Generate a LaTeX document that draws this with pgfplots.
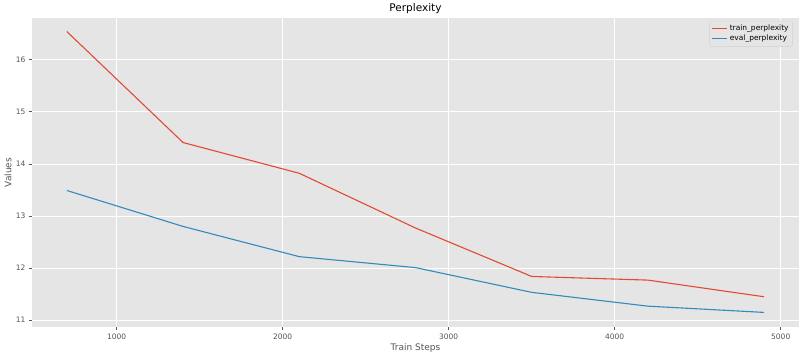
\documentclass[border=0pt]{standalone}
\usepackage{fontspec}
\setmainfont{DejaVu Sans}
\usepackage{pgfplots}
\pgfplotsset{compat=1.18}
\definecolor{bgc}{HTML}{E5E5E5}
\definecolor{tc}{HTML}{555555}
\definecolor{redc}{HTML}{E24A33}
\definecolor{bluec}{HTML}{348ABD}
\begin{document}
\begin{tikzpicture}
\useasboundingbox (0,0) rectangle (800pt,357pt);
\begin{axis}[
  at={(32pt,30pt)}, anchor=south west,
  scale only axis, width=767pt, height=309pt,
  xmin=490, xmax=5110, ymin=10.87, ymax=16.80,
  axis background/.style={fill=bgc},
  axis line style={draw=none},
  xtick={1000,2000,3000,4000,5000},
  ytick={11,12,13,14,15,16},
  xtick pos=bottom, ytick pos=left,
  /pgf/number format/1000 sep={},
  /pgf/number format/assume math mode=true,
  tick align=outside, major tick length=3pt,
  tick style={color=tc, line width=0.7pt},
  ticklabel style={font=\fontsize{7.5}{9}\selectfont, text=tc},
  grid=major, major grid style={white, line width=0.8pt},
  title={Perplexity},
  every axis title shift=0pt,
  title style={font=\fontsize{10.5}{12}\selectfont, at={(axis description cs:0.5,1.029)}, anchor=center},
  xlabel={Train Steps}, ylabel={Values},
  xlabel style={font=\fontsize{9}{11}\selectfont, text=tc, at={(axis description cs:0.5,-0.068)}, anchor=center},
  ylabel style={font=\fontsize{9}{11}\selectfont, text=tc, at={(axis description cs:-0.0313,0.5)}, anchor=center},
  legend style={at={(axis description cs:0.992,0.991)}, anchor=north east, fill=bgc, draw=black!18, rounded corners=2pt, font=\fontsize{7.5}{9}\selectfont, inner sep=2pt, row sep=-1pt},
  legend cell align=left,
  legend image code/.code={\draw[#1] (0pt,0pt) -- (15pt,0pt);},
]
\addplot[redc, line width=1.1pt] coordinates {
 (700,16.54) (1400,14.41) (2100,13.82) (2800,12.77) (3500,11.84) (4200,11.77) (4900,11.45)};
\addlegendentry{train\_perplexity}
\addplot[bluec, line width=1.1pt] coordinates {
 (700,13.49) (1400,12.80) (2100,12.22) (2800,12.01) (3500,11.535) (4200,11.27) (4900,11.15)};
\addlegendentry{eval\_perplexity}
\end{axis}
\end{tikzpicture}
\end{document}
